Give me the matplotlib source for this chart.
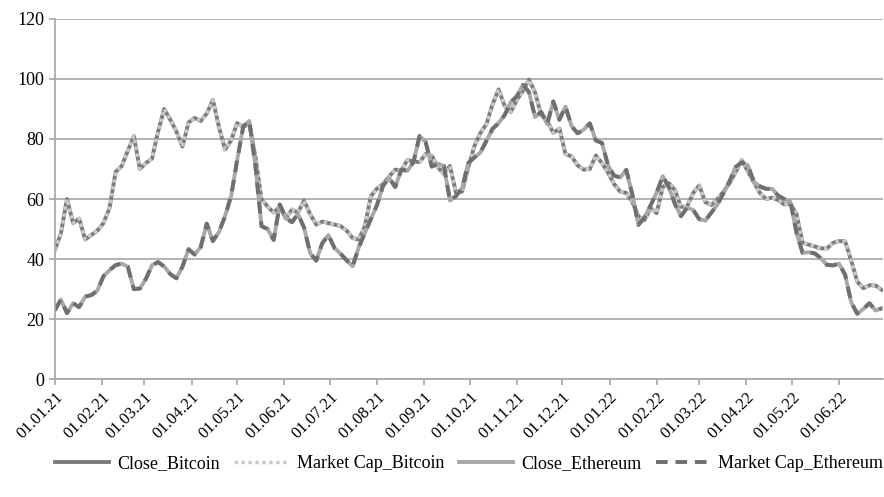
import pandas as pd
import matplotlib
matplotlib.use("Agg")
import matplotlib.pyplot as plt
import matplotlib.dates as mdates

# normalised series (max = 100), sampled every 4 days from 01.01.2021
start = "2021-01-01"
step = "4D"

close_bitcoin = [
    43, 48.5, 60, 52, 53.5, 46.5, 48, 49.5, 52, 57, 69, 71, 76, 81, 70, 72,
    73.5, 82.6, 90, 86.4, 82.5, 77.5, 85.5, 87, 86, 88.5, 93, 84, 76.5, 79.5,
    85.3, 84, 85, 74, 60, 57.5, 55.5, 57.5, 53.5, 56.5, 55.5, 59.5, 55, 51.5,
    52.5, 52, 51.5, 51, 49.5, 47, 46.5, 51, 61, 63.5, 65, 67.5, 69.8, 69.5,
    73, 72.5, 72.3, 75, 74.5, 70.5, 68.5, 71, 62, 62.5, 70.5, 77.5, 82, 85,
    91.5, 96.5, 91, 89, 93, 96, 99.8, 95.5, 88, 86, 82, 83.5, 75, 74.2, 71.2,
    69.8, 70, 74.5, 72, 68.8, 65, 62.5, 62, 59, 54.2, 53, 57, 55.3, 64, 65.3,
    63, 57.4, 57.5, 62, 64.5, 59, 58, 60, 62.5, 65.3, 69, 73, 69.2, 65.5, 62,
    60, 60.5, 59.6, 58.2, 58.4, 55, 45.5, 44.8, 44.2, 43.6, 43.5, 45.4, 46,
    45.9, 39.5, 32.5, 30.3, 31.3, 31.2, 29.8,
]
market_cap_bitcoin = list(close_bitcoin)

close_ethereum = [
    23, 26.5, 22, 25.3, 24, 27.5, 28, 29.5, 34.3, 36.3, 38, 38.5, 37.5, 30,
    30.2, 33.5, 38, 39, 37.5, 35, 33.6, 37.5, 43.3, 41.5, 44, 51.8, 46, 49,
    54.3, 61, 73, 84.2, 86, 71, 51, 50, 46.4, 58.2, 53.8, 52.3, 55, 50.5, 42,
    39.5, 45.3, 48, 43.7, 41.8, 39.6, 37.6, 44, 48.7, 53.4, 58, 64.5, 67, 64,
    69.8, 69.4, 72.3, 81, 79, 70.8, 71.8, 71, 59.5, 61, 63.7, 72, 73.8, 75.5,
    79.4, 83.4, 85.3, 88, 92.3, 94.2, 98, 95.6, 87.3, 89, 85, 92.5, 86.4, 90.8,
    84.3, 81.9, 83.1, 85.2, 79.5, 78.7, 71.2, 67.8, 67.2, 69.7, 61.5, 51.4,
    53.9, 57.9, 62.1, 67.6, 64, 58.4, 54.3, 57.1, 56.4, 53.3, 52.8, 55.5, 58.2,
    62, 66, 70.7, 72.2, 71.2, 65.7, 64.2, 63.4, 63.4, 61.1, 60, 59.1, 48.8,
    42.1, 42.3, 41.9, 40.3, 38.1, 37.9, 38.5, 34.8, 25.6, 21.8, 23.4, 25.3,
    22.9, 23.6,
]
market_cap_ethereum = list(close_ethereum)

plt.rcParams['font.family'] = ['Liberation Serif', 'DejaVu Serif']

fig = plt.figure(figsize=(8.84, 4.97), dpi=100)
ax = fig.add_axes([0.062, 0.237, 0.937, 0.725])

series = [
    ("Close_Bitcoin", close_bitcoin, dict(color="#7b7b7b", lw=2.8, ls="-")),
    ("Market Cap_Bitcoin", market_cap_bitcoin, dict(color="#c9c9c9", lw=2.5, ls=(0, (1, 1)))),
    ("Close_Ethereum", close_ethereum, dict(color="#a8a8a8", lw=2.8, ls="-")),
    ("Market Cap_Ethereum", market_cap_ethereum, dict(color="#6f6f6f", lw=2.8, ls=(0, (3, 2)))),
]
for name, vals, style in series:
    dates = pd.date_range(start, periods=len(vals), freq=step)
    ax.plot(dates, vals, label=name, solid_joinstyle="round", **style)

ax.set_ylim(0, 120)
ax.set_yticks(range(0, 121, 20))
ax.set_xlim(pd.Timestamp("2021-01-01"), pd.Timestamp("2022-06-30"))
ax.set_xticks(pd.date_range("2021-01-01", "2022-06-01", freq="MS"))
ax.xaxis.set_major_formatter(mdates.DateFormatter("%d.%m.%y"))

ax.grid(axis="y", color="#a6a6a6", lw=1.2)
ax.set_axisbelow(True)
for side in ("top", "right"):
    ax.spines[side].set_visible(False)
for side in ("left", "bottom"):
    ax.spines[side].set_color("#a6a6a6")
    ax.spines[side].set_linewidth(1.2)
ax.tick_params(axis="both", colors="#a6a6a6", length=4, width=1.2, labelcolor="black", labelsize=13)
ax.tick_params(axis="x", labelsize=12)
plt.setp(ax.get_xticklabels(), rotation=45, ha="right", rotation_mode="anchor")

ax.legend(loc="upper center", bbox_to_anchor=(0.5, -0.165), ncol=4, frameon=False,
          fontsize=13, handlelength=3.0, handletextpad=0.45, columnspacing=0.8)

fig.savefig("out.png", dpi=100)
